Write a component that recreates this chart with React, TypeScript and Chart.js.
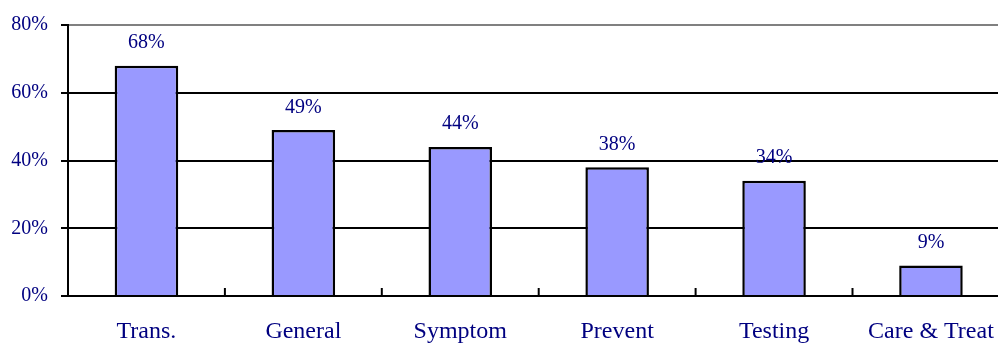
import React, { useEffect, useRef } from "react";
import { Chart, registerables } from "chart.js";

Chart.register(...registerables);

const categories = ["Trans.", "General", "Symptom", "Prevent", "Testing", "Care & Treat"];
const values = [68, 49, 44, 38, 34, 9];
const yTicks = [0, 20, 40, 60, 80];

const NAVY = "#000080";
const FONT = "'Liberation Serif', 'Times New Roman', serif";

const valueLabels = {
  id: "valueLabels",
  afterDatasetsDraw(chart: any) {
    const ctx = chart.ctx;
    const meta = chart.getDatasetMeta(0);
    ctx.save();
    ctx.fillStyle = NAVY;
    ctx.font = `20px ${FONT}`;
    ctx.textAlign = "center";
    ctx.textBaseline = "alphabetic";
    meta.data.forEach((bar: any, i: number) => {
      ctx.fillText(values[i] + "%", bar.x, bar.y - 17.5);
    });
    ctx.restore();
  },
};

const innerTicks = {
  id: "innerTicks",
  afterDraw(chart: any) {
    const ctx = chart.ctx;
    const xs = chart.scales.x;
    const bottom = chart.chartArea.bottom;
    ctx.save();
    ctx.strokeStyle = "#000";
    ctx.lineWidth = 2;
    for (let i = 0; i < categories.length - 1; i++) {
      const x = (xs.getPixelForValue(i) + xs.getPixelForValue(i + 1)) / 2;
      ctx.beginPath();
      ctx.moveTo(x, bottom);
      ctx.lineTo(x, bottom - 8);
      ctx.stroke();
    }
    ctx.restore();
  },
};

export default function App() {
  const ref = useRef<HTMLCanvasElement>(null);
  useEffect(() => {
    if (!ref.current) return;
    const chart = new Chart(ref.current, {
      type: "bar",
      data: {
        labels: categories,
        datasets: [
          {
            data: values,
            backgroundColor: "#9999FF",
            borderColor: "#000",
            borderWidth: 2.5,
            borderSkipped: "bottom",
            categoryPercentage: 1,
            barPercentage: 0.405,
          },
        ],
      },
      options: {
        animation: false,
        responsive: false,
        maintainAspectRatio: false,
        layout: { padding: { top: 22, right: 2, left: 0, bottom: 0 } },
        plugins: { legend: { display: false }, tooltip: { enabled: false } },
        scales: {
          x: {
            grid: { display: false, drawTicks: false },
            border: { display: true, color: "#000", width: 2 },
            ticks: {
              color: NAVY,
              font: { family: FONT, size: 24 },
              padding: 21,
              maxRotation: 0,
              autoSkip: false,
            },
            afterFit: (s: any) => {
              s.height = 47;
            },
          },
          y: {
            min: 0,
            max: 80,
            afterBuildTicks: (s: any) => {
              s.ticks = yTicks.map((v) => ({ value: v }));
            },
            grid: {
              color: (c: any) => (c.tick && c.tick.value === 80 ? "#808080" : "#000"),
              tickColor: "#000",
              lineWidth: 2,
              tickLength: 7,
            },
            border: { display: true, color: "#000", width: 2 },
            ticks: {
              color: NAVY,
              font: { family: FONT, size: 20 },
              padding: 13,
              callback: (v: any) => v + "%",
            },
            afterFit: (s: any) => {
              s.width = 68;
            },
          },
        },
      },
      plugins: [valueLabels, innerTicks],
    });
    return () => chart.destroy();
  }, []);
  return (
    <div
      style={{
        position: "fixed",
        top: 0,
        left: 0,
        width: 998,
        height: 343,
        overflow: "hidden",
        background: "#fff",
      }}
    >
      <canvas ref={ref} width={1015} height={343} style={{ display: "block" }} />
    </div>
  );
}
